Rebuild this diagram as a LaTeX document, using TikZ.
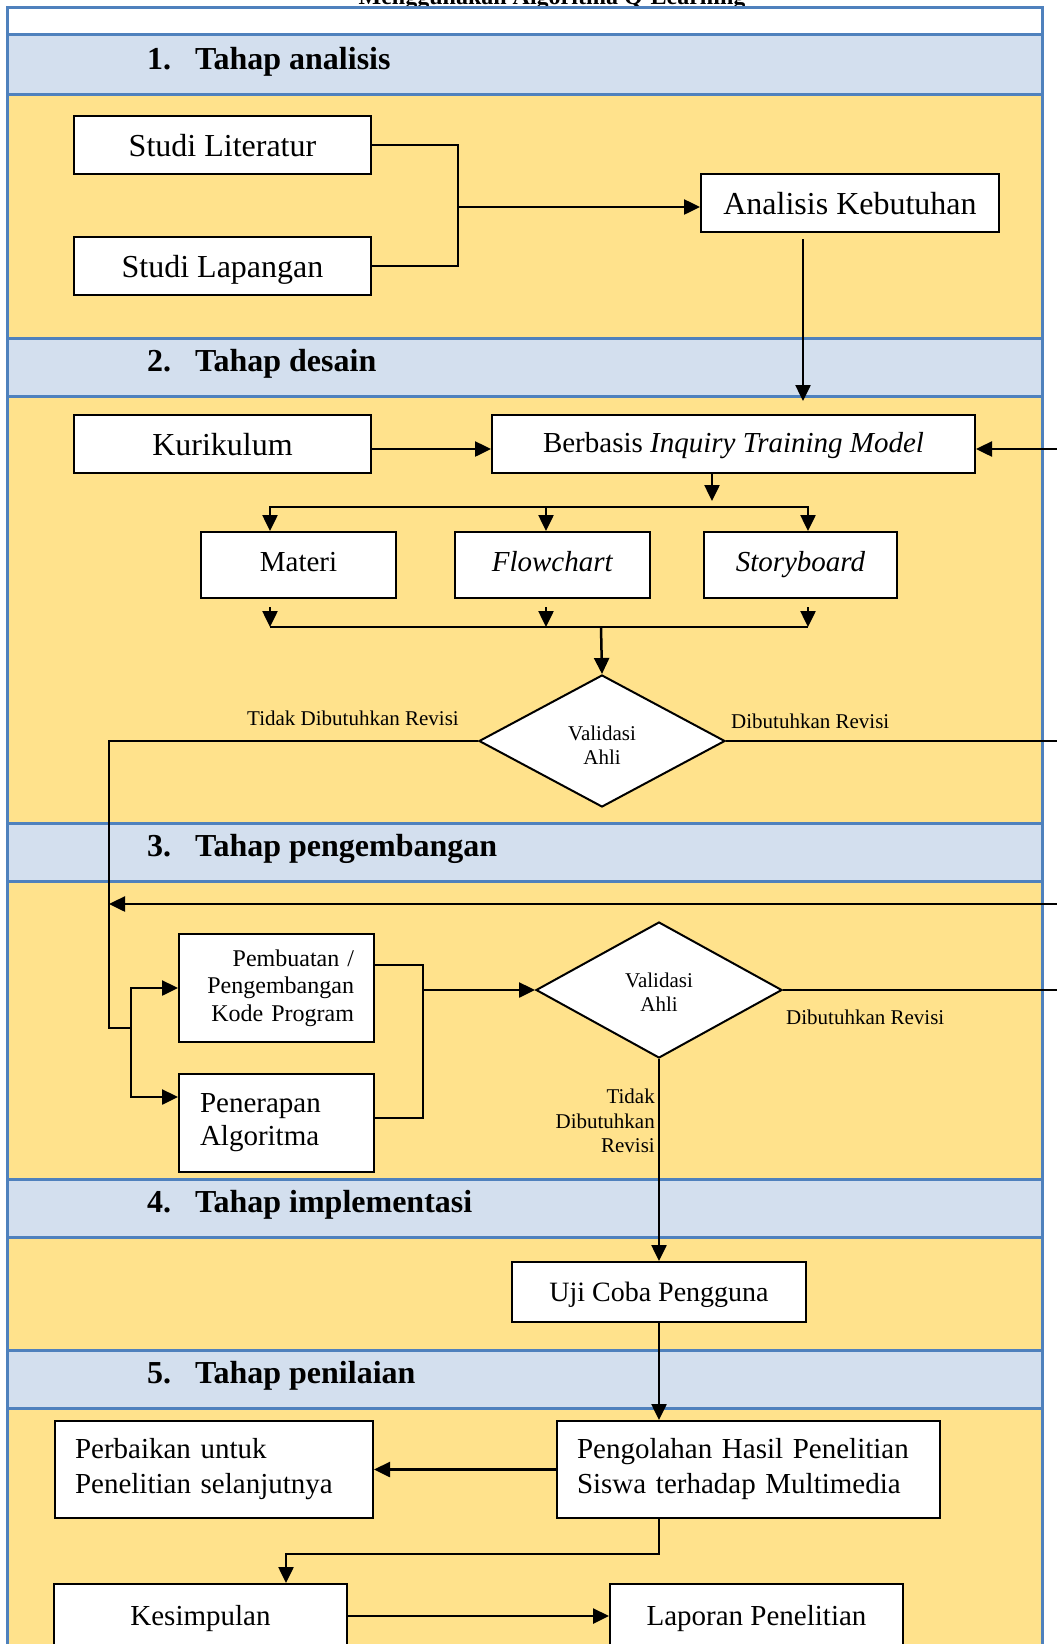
\documentclass[tikz,border=0pt]{standalone}
\usepackage{fontspec}
\setmainfont{Liberation Serif}
\usetikzlibrary{arrows.meta,shapes.geometric}
\definecolor{frameblue}{RGB}{79,129,189}
\definecolor{bandblue}{RGB}{211,223,238}
\definecolor{rowyellow}{RGB}{255,226,140}
\newcommand{\ftbig}{\fontsize{32}{38}\selectfont}
\newcommand{\ftmid}{\fontsize{29}{35}\selectfont}
\newcommand{\ftsml}{\fontsize{21}{24.5}\selectfont}
\newcommand{\ftpk}{\fontsize{24}{27.5}\selectfont}
\begin{document}
\begin{tikzpicture}[x=1pt,y=-1pt,
  frame/.style={draw=frameblue,line width=3pt},
  bandtitle/.style={anchor=base west,inner sep=0pt,font=\bfseries\fontsize{32}{38}\selectfont},
  box/.style={draw=black,line width=2pt,fill=white,inner sep=0pt,align=center},
  bigbox/.style={box,font=\ftbig,text height=22pt,text depth=0pt},
  decision/.style={shape=diamond,draw=black,line width=2pt,fill=white,inner sep=0pt,minimum width=246pt,minimum height=132pt},
  conn/.style={draw=black,line width=2.5pt},
  arr/.style={conn,-{Triangle[length=16pt,width=15pt]}},
  lbl/.style={inner sep=0pt,font=\ftsml},
]
\useasboundingbox (0,0) rectangle (1057,1644);
\fill[white] (0,0) rectangle (1057,1644);

% clipped heading at the very top
\node[font=\bfseries\fontsize{24}{28}\selectfont,anchor=base,inner sep=0pt] (ttl) at (552,4) {Menggunakan Algoritma Q-Learning};

% rows of the table
\foreach \a/\b/\c in {7/34/white,34/94/bandblue,94/338/rowyellow,338/396/bandblue,396/823/rowyellow,823/881/bandblue,881/1179/rowyellow,1179/1237/bandblue,1237/1350/rowyellow,1350/1408/bandblue,1408/1680/rowyellow}
  \draw[frame,fill=\c] (7,\a) rectangle (1042,\b);

% stage titles
\node[bandtitle] (n1) at (147,69) {1.};
\node[bandtitle] (t1) at (195,69) {Tahap analisis};
\node[bandtitle] (n2) at (147,371) {2.};
\node[bandtitle] (t2) at (195,371) {Tahap desain};
\node[bandtitle] (n3) at (147,856) {3.};
\node[bandtitle] (t3) at (195,856) {Tahap pengembangan};
\node[bandtitle] (n4) at (147,1212) {4.};
\node[bandtitle] (t4) at (195,1212) {Tahap implementasi};
\node[bandtitle] (n5) at (147,1383) {5.};
\node[bandtitle] (t5) at (195,1383) {Tahap penilaian};

% 1. analysis
\node[bigbox,minimum width=297pt,minimum height=58pt] (sl) at (222.5,145) {Studi Literatur};
\node[bigbox,minimum width=297pt,minimum height=58pt] (slp) at (222.5,266) {Studi Lapangan};
\node[bigbox,minimum width=298pt,minimum height=58pt] (ak) at (850,203) {Analisis Kebutuhan};

% 2. design
\node[bigbox,minimum width=297pt,minimum height=58pt] (kur) at (222.5,444) {Kurikulum};
\node[box,minimum width=483pt,minimum height=58pt,font=\ftmid,text height=20pt,text depth=4pt] (bb) at (733.5,444) {Berbasis \textit{Inquiry Training Model}};
\node[box,minimum width=195pt,minimum height=66pt,font=\ftmid,text height=20pt,text depth=8pt] (mat) at (298.5,565) {Materi};
\node[box,minimum width=195pt,minimum height=66pt,font=\ftmid,text height=20pt,text depth=8pt] (fc) at (552.5,565) {\textit{Flowchart}};
\node[box,minimum width=193pt,minimum height=66pt,font=\ftmid,text height=20pt,text depth=8pt] (sb) at (800.5,565) {\textit{Storyboard}};
\node[decision] (d1) at (602,741) {};
\node[lbl,align=center] (d1t) at (602,745) {Validasi\\Ahli};
\node[lbl,anchor=east] (l1) at (459,718) {Tidak Dibutuhkan Revisi};
\node[lbl,anchor=west] (l2) at (731,721) {Dibutuhkan Revisi};

% 3. development
\node[box,anchor=north west,text width=155pt,inner xsep=20pt,minimum height=108pt,align=right,font=\ftpk] (pk) at (178,933) {Pembuatan /\\Pengembangan\\Kode Program};
\node[box,anchor=north west,text width=153pt,inner xsep=21pt,minimum height=98pt,align=left,font=\fontsize{29}{33}\selectfont] (pa) at (178,1073) {Penerapan\\Algoritma};
\node[decision,minimum height=136pt] (d2) at (659,990) {};
\node[lbl,align=center] (d2t) at (659,992) {Validasi\\Ahli};
\node[lbl,anchor=west] (l3) at (786,1017) {Dibutuhkan Revisi};
\node[lbl,anchor=east,align=right] (l4) at (655,1121) {Tidak\\Dibutuhkan\\Revisi};

% 4. implementation
\node[box,minimum width=294pt,minimum height=60pt,font=\fontsize{28}{34}\selectfont,text height=19pt,text depth=0pt] (uji) at (659,1292) {Uji Coba Pengguna};

% 5. assessment
\node[box,anchor=north west,text width=343pt,inner xsep=20pt,minimum height=97pt,align=left,font=\ftmid] (peng) at (556,1420) {Pengolahan Hasil Penelitian\\Siswa terhadap Multimedia};
\node[box,anchor=north west,text width=278pt,inner xsep=20pt,minimum height=97pt,align=left,font=\ftmid] (perb) at (54,1420) {Perbaikan untuk\\Penelitian selanjutnya};
\node[box,minimum width=293pt,minimum height=64pt,font=\ftmid,text height=19pt,text depth=0pt] (kes) at (200.5,1616) {Kesimpulan};
\node[box,minimum width=293pt,minimum height=64pt,font=\ftmid,text height=19pt,text depth=0pt] (lap) at (756.5,1616) {Laporan Penelitian};

% ---- connectors ----
% analysis
\coordinate (jt) at (458,145);
\coordinate (jb) at (458,266);
\coordinate (jm) at (458,207);
\draw[conn] (sl.east) -- (jt) -- (jb) -- (slp.east);
\draw[arr] (jm) -- (ak.west |- jm);
\coordinate (akd) at (803,401);
\draw[arr,shorten <=6pt] (ak.south -| akd) -- (akd);

% design
\draw[arr] ([yshift=-5pt]kur.east) -- ([yshift=-5pt]bb.west);
\coordinate (rb) at (1062,449);
\draw[arr] (rb) -- (bb.east |- rb);
\coordinate (bj) at (712,507);
\draw[arr,shorten >=6pt] (bb.south -| bj) -- (bj);
\coordinate (b1) at (270,507);
\coordinate (b2) at (546,507);
\coordinate (b3) at (808,507);
\draw[arr] (b3) -- (b1) -- (mat.north -| b1);
\draw[arr] (b1) -- (b3) -- (sb.north -| b3);
\draw[arr] (b2) -- (fc.north -| b2);
\coordinate (c1) at (270,627);
\coordinate (c2) at (546,627);
\coordinate (c3) at (808,627);
\coordinate (c0) at (601,627);
\draw[arr,shorten <=8pt] (mat.south -| c1) -- (c1);
\draw[arr,shorten <=8pt] (fc.south -| c2) -- (c2);
\draw[arr,shorten <=8pt] (sb.south -| c3) -- (c3);
\draw[conn] (c1) -- (c3);
\draw[arr] (c0) -- (d1.north);
\coordinate (lv) at (109,1028);
\coordinate (sp) at (131,1028);
\draw[conn] (d1.west) -| (lv) -- (sp);
\coordinate (r2) at (1062,741);
\draw[conn] (d1.east) -- (r2);

% development
\coordinate (r3) at (1062,904);
\coordinate (lt) at (109,904);
\draw[arr] (r3) -- (lt);
\coordinate (s1) at (131,988);
\coordinate (s2) at (131,1097);
\draw[arr] (s2) -- (s1) -- (pk.west |- s1);
\draw[arr] (s1) -- (s2) -- (pa.west |- s2);
\coordinate (q1) at (423,965);
\coordinate (q2) at (423,1118);
\coordinate (q3) at (423,990);
\draw[conn] (pk.east |- q1) -- (q1) -- (q2) -- (pa.east |- q2);
\draw[arr] (q3) -- (d2.west);
\coordinate (r4) at (1062,990);
\draw[conn] (d2.east) -- (r4);
\draw[arr] (d2.south) -- (uji.north);

% assessment
\draw[arr] (uji.south) -- (peng.north -| uji.south);
\draw[arr] (peng.west) -- (perb.east);
\coordinate (m1) at (659,1554);
\coordinate (m2) at (286,1554);
\draw[arr] (peng.south -| m1) -- (m1) -- (m2) -- (kes.north -| m2);
\draw[arr] (kes.east) -- (lap.west);
\end{tikzpicture}
\end{document}
